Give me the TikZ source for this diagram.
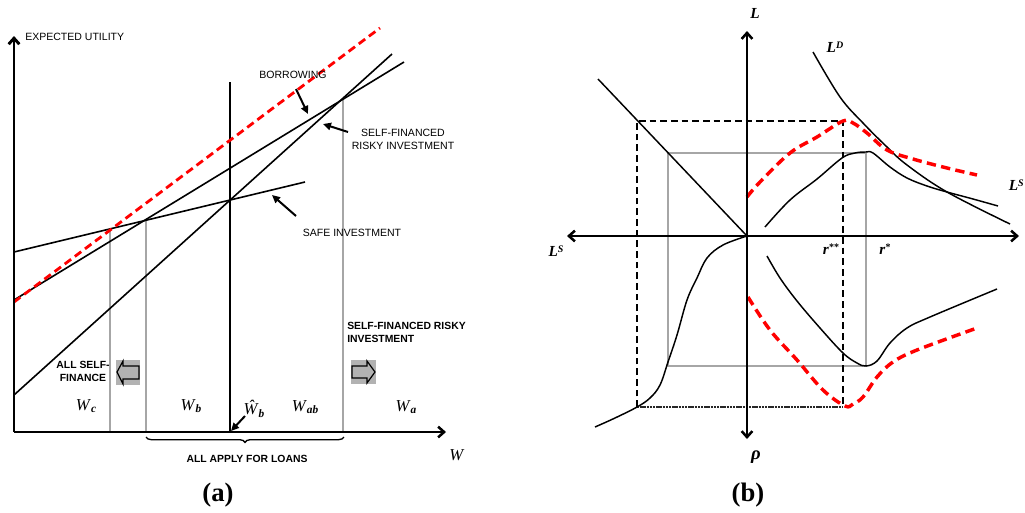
\documentclass[tikz,border=0pt]{standalone}
\usepackage{fontspec}
\setmainfont{Liberation Serif}
\setsansfont{Liberation Sans}
\usetikzlibrary{arrows.meta,decorations.pathreplacing}
\newcommand{\Wlab}[2]{\textit{#1}\raisebox{-0.35ex}{\fontsize{8.5}{9}\selectfont\textbf{\textit{#2}}}}
\newcommand{\Blab}[2]{\textbf{\textit{#1}}\raisebox{0.6ex}{\fontsize{7.5}{8}\selectfont\textbf{\textit{#2}}}}
\begin{document}
\begin{tikzpicture}[x=0.75pt,y=-0.75pt,
  lbl/.style={font=\sffamily\fontsize{7.9}{9.7}\selectfont, inner sep=0pt, align=center},
  blbl/.style={font=\sffamily\bfseries\fontsize{7.8}{9.7}\selectfont, inner sep=0pt},
  wl/.style={font=\fontsize{12.5}{14}\selectfont, inner sep=0pt},
  bl/.style={font=\fontsize{11.5}{13}\selectfont, inner sep=0pt},
  figcap/.style={font=\bfseries\fontsize{20}{22}\selectfont, inner sep=0pt},
  axisA/.style={line width=2.2pt},
  axisB/.style={line width=1.9pt},
  tipA/.style={-{Straight Barb[length=4.5pt,width=8pt]}},
  thinline/.style={line width=1.2pt},
  curve/.style={line width=1.1pt},
  reddash/.style={red, line width=2.1pt, dash pattern=on 6pt off 3.5pt},
  reddashB/.style={red, line width=2.6pt, dash pattern=on 7pt off 4pt},
  graydot/.style={gray!70, line width=1.7pt},
  blackdash/.style={line width=1.9pt, dash pattern=on 5pt off 3pt},
  blackdot/.style={black!85, line width=1.9pt, dash pattern=on 1.8pt off 0.6pt},
  ann/.style={line width=1.5pt,-{Triangle[length=6pt,width=5.5pt]}},
  boxfill/.style={fill=gray!60, draw=none},
  blockarrow/.style={fill=gray!60, draw=black, line width=0.9pt}
]
\useasboundingbox (0,0) rectangle (1025,512);

% ================= Panel (a) =================
% gray dotted verticals
\draw[graydot] (110,229) -- (110,432);
\draw[graydot] (146,219) -- (146,432);
\draw[graydot] (343,98) -- (343,432);
% vertical solid at W-hat
\draw[thinline] (230,82) -- (230,432);
% lines
\draw[thinline] (14,252) -- (305,182);   % safe investment
\draw[thinline] (14,300) -- (404,62);    % borrowing
\draw[thinline] (14,395) -- (392,54);    % self-financed risky
\draw[reddash] (14,302) -- (380,28);
% axes
\coordinate (oA) at (14,432);
\coordinate (yA) at (14,36);
\coordinate (xA) at (446,432);
\draw[axisA,tipA] (oA) -- (yA);
\draw[line width=1.9pt,tipA] (oA) -- (xA);

% labels
\node[lbl,anchor=west] (eu) at (25,37) {EXPECTED UTILITY};
\node[lbl] (borr) at (293,75) {BORROWING};
\node[lbl] (sfri) at (403,139) {SELF-FINANCED\\RISKY INVESTMENT};
\node[lbl] (safe) at (352,233) {SAFE INVESTMENT};
\node[blbl,align=center] (asf) at (83,371) {ALL SELF-\\FINANCE};
\node[blbl,align=left,anchor=west] (sfri2) at (347,332) {SELF-FINANCED RISKY\\INVESTMENT};
\node[blbl] (aafl) at (247,459) {ALL APPLY FOR LOANS};

% annotation arrows
\coordinate (b1) at (296,89);  \coordinate (b2) at (308,114);
\coordinate (s1) at (348,132); \coordinate (s2) at (323,124);
\coordinate (f1) at (296,216); \coordinate (f2) at (272,195);
\coordinate (w1) at (245,416); \coordinate (w2) at (231,431);
\draw[ann] (b1) -- (b2);
\draw[ann] (s1) -- (s2);
\draw[ann] (f1) -- (f2);
\draw[ann] (w1) -- (w2);

% gray boxes with block arrows
\fill[boxfill] (116,360) rectangle (140,385);
\draw[blockarrow] (117,372) -- (123,361) -- (123,366) -- (139,366) -- (139,379) -- (123,379) -- (123,384) -- cycle;
\fill[boxfill] (351,360) rectangle (376,384);
\draw[blockarrow] (352,366) -- (367,366) -- (367,361) -- (375,372) -- (367,383) -- (367,378) -- (352,378) -- cycle;

% W labels
\node[wl] (wc) at (86,406) {\Wlab{W}{c}};
\node[wl] (wb) at (191,406) {\Wlab{W}{b}};
\node[wl] (wh) at (254,409) {\Wlab{Ŵ}{b}};
\node[wl] (wab) at (305,407) {\Wlab{W}{ab}};
\node[wl] (wa) at (406,407) {\Wlab{W}{a}};
\node[wl] (wax) at (457,455) {\textit{W}};

% brace
\draw[line width=1pt,decorate,decoration={brace,mirror,amplitude=4pt}] (146,437) -- (344,437);

\node[figcap] (capa) at (218,495) {(a)};

% ================= Panel (b) =================
% gray dotted rectangle
\draw[graydot] (668,153) rectangle (866,366);
% black dashed box
\draw[blackdash] (637,407) -- (637,121) -- (843,121) -- (843,407);
\draw[blackdot] (637,407) -- (843,407);

% 45 degree line
\draw[curve] (598,79) -- (747,236);

% curves
\draw[curve] plot[smooth,tension=0.6] coordinates {(813,52) (840,97) (863,123) (887,147) (907,165) (947,192) (1010,224)};
\draw[curve] plot[smooth,tension=0.6] coordinates {(765,227) (790,200) (817,179) (842,158) (855,153) (866,152) (873,153) (890,167) (907,178) (927,186) (947,192) (973,199) (998,206)};
\draw[reddashB] plot[smooth,tension=0.6] coordinates {(747,197) (760,182) (790,153) (817,137) (843,121) (853,123) (867,133) (887,150) (913,159) (947,168) (977,175)};
\draw[curve] plot[smooth,tension=0.6] coordinates {(747,236) (723,245) (707,258) (697,278) (687,300) (677,335) (668,362) (660,385) (650,398) (637,407) (615,418) (595,427)};
\draw[curve] plot[smooth,tension=0.6] coordinates {(767,256) (780,278) (797,301) (820,328) (843,353) (857,363) (866,366) (877,361) (890,343) (907,328) (930,317) (997,289)};
\draw[reddashB] plot[smooth,tension=0.6] coordinates {(748,297) (770,330) (797,360) (823,390) (845,406) (853,404) (863,397) (877,377) (893,362) (917,350) (977,328)};

% axes
\coordinate (oB) at (747,236);
\coordinate (upB) at (747,31);
\coordinate (dnB) at (747,439);
\coordinate (lfB) at (567,236);
\coordinate (rtB) at (1019,236);
\draw[axisB,tipA] (747,240) -- (upB);
\draw[axisB,tipA] (747,232) -- (dnB);
\draw[axisB,tipA] (751,236) -- (lfB);
\draw[axisB,tipA] (743,236) -- (rtB);

% labels
\node[bl] (lL) at (755,13) {\textbf{\textit{L}}};
\node[bl] (lD) at (835,47) {\Blab{L}{D}};
\node[bl] (lS) at (556,251) {\Blab{L}{S}};
\node[bl,anchor=east] (lS2) at (1024,185) {\Blab{L}{S}};
\node[bl] (rss) at (831,249) {\textbf{\textit{r}}\raisebox{0.6ex}{\fontsize{7.5}{8}\selectfont\textbf{**}}};
\node[bl] (rs) at (885,249) {\textbf{\textit{r}}\raisebox{0.6ex}{\fontsize{7.5}{8}\selectfont\textbf{*}}};
\node[bl,font=\fontsize{14}{16}\selectfont] (rho) at (756,457) {\textbf{\textit{ρ}}};
\node[figcap] (capb) at (748,495) {(b)};
\end{tikzpicture}
\end{document}
